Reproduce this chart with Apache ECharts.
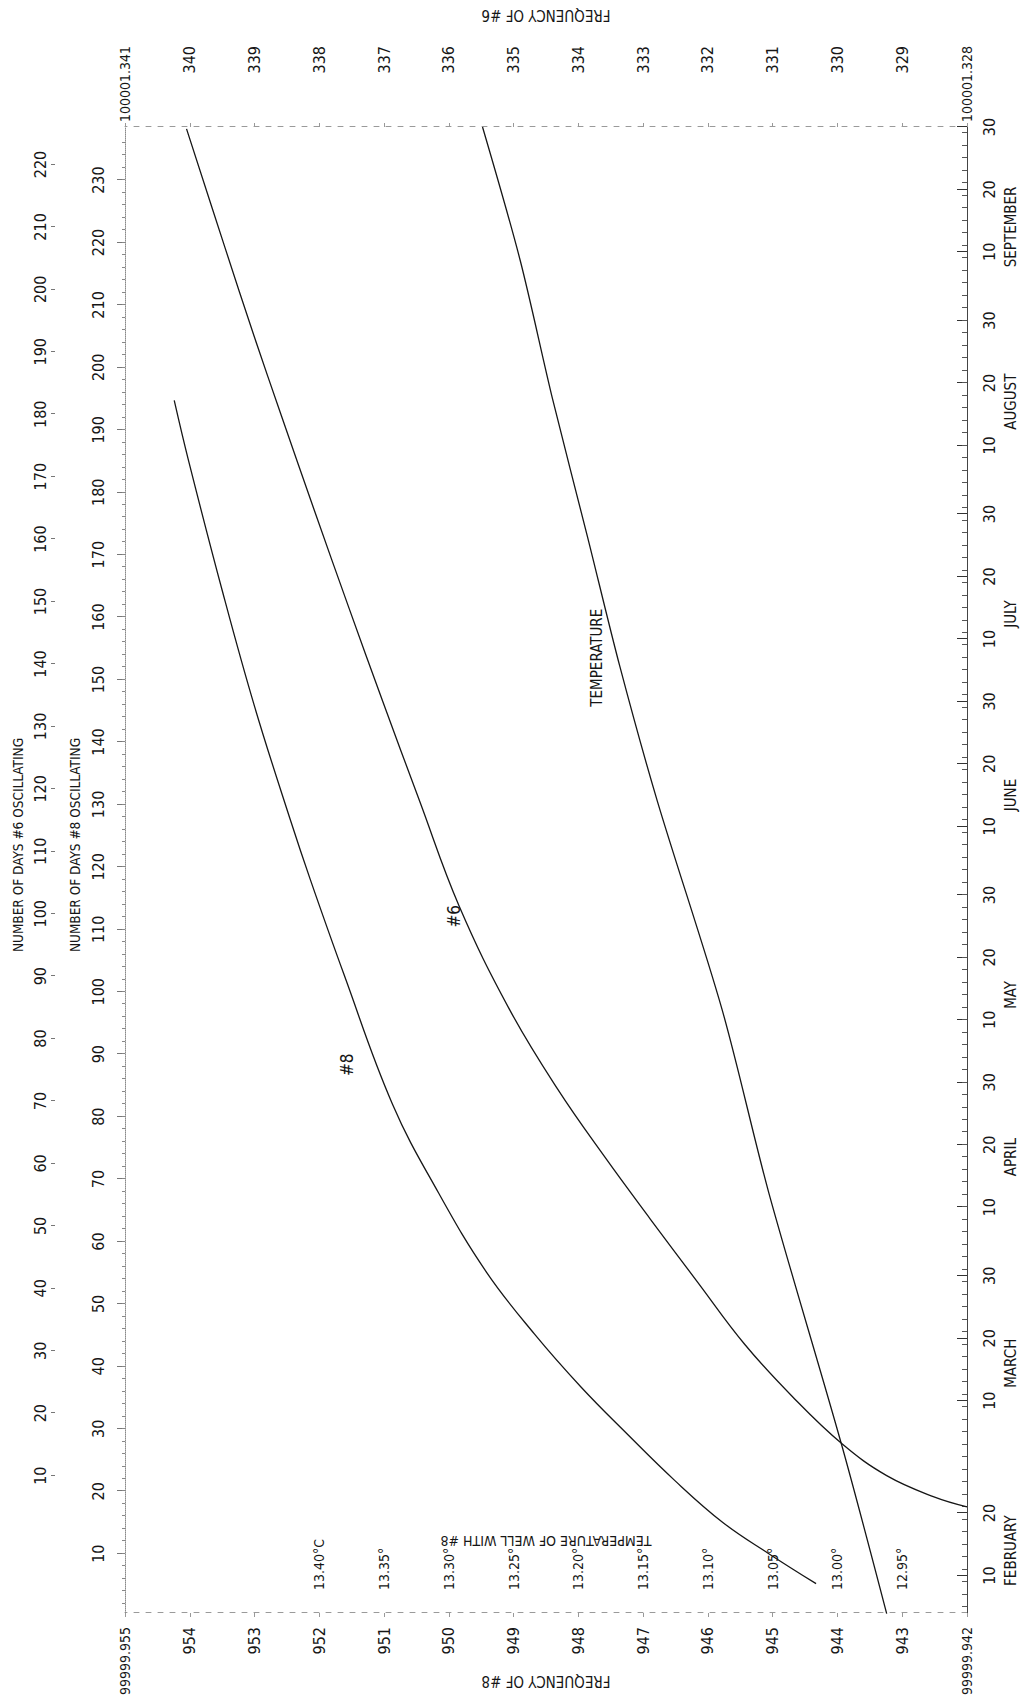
<!DOCTYPE html>
<html>
<head>
<meta charset="utf-8">
<title>Frequency of #6 and #8 against time</title>
<script src="https://cdn.jsdelivr.net/npm/echarts@6/dist/echarts.min.js"></script>
<style>
  html, body { margin: 0; padding: 0; background: #fff; overflow: hidden; }
  #wrap { position: relative; width: 1027px; height: 1708px; overflow: hidden; }
  /* the sheet is drawn landscape and turned a quarter turn, like the original */
  #chart { position: absolute; left: 0; top: 0; width: 1708px; height: 1027px;
           transform-origin: 0 0; transform: translate(0, 1708px) rotate(-90deg); }
</style>
</head>
<body>
<div id="wrap"><div id="chart"></div></div>
<script>
// x values are day of the year (non leap year)
var days8 = [39.7, 44.5, 49.5, 56.2, 63.7, 71.2, 79.7, 89.6, 102.3, 116.5, 137.3, 152.5, 161.8, 180.2, 198.8, 219.6, 229.2];
var freq8 = [944.33, 945.06, 945.77, 946.51, 947.25, 947.96, 948.68, 949.42, 950.16, 950.87, 951.62, 952.14, 952.44, 953.00, 953.50, 954.02, 954.24];

var days6 = [52.0, 53.6, 57.0, 62.1, 69.6, 78.0, 88.0, 98.1, 108.0, 118.9, 131.6, 148.2, 165.0, 181.0, 195.9, 211.7, 226.6, 239.6, 253.8, 272.7];
var freq6 = [328.00, 328.51, 329.24, 329.93, 330.69, 331.43, 332.16, 332.89, 333.59, 334.32, 335.06, 335.84, 336.45, 337.02, 337.54, 338.08, 338.58, 339.01, 339.46, 340.05];

var daysT = [34.9, 62.1, 102.3, 131.6, 165.0, 186.6, 207.4, 229.5, 251.7, 273.0];
var tempT = [12.962, 12.997, 13.053, 13.089, 13.139, 13.168, 13.193, 13.220, 13.245, 13.274];

// date axis: labelled days and month names
var dateTicks = [[2, 10], [2, 20], [3, 10], [3, 20], [3, 30], [4, 10], [4, 20], [4, 30],
                 [5, 10], [5, 20], [5, 30], [6, 10], [6, 20], [6, 30], [7, 10], [7, 20], [7, 30],
                 [8, 10], [8, 20], [8, 30], [9, 10], [9, 20], [9, 30]];
var monthNames = ['FEBRUARY', 'MARCH', 'APRIL', 'MAY', 'JUNE', 'JULY', 'AUGUST', 'SEPTEMBER'];
var monthNameDay = [14, 16, 18, 14, 15, 14, 17, 14];

// "number of days oscillating" tick labels
var days8Ticks = [10, 20, 30, 40, 50, 60, 70, 80, 90, 100, 110, 120, 130, 140, 150, 160, 170, 180, 190, 200, 210, 220, 230];
var days6Ticks = [10, 20, 30, 40, 50, 60, 70, 80, 90, 100, 110, 120, 130, 140, 150, 160, 170, 180, 190, 200, 210, 220];

var monthStart = { 1: 0, 2: 31, 3: 59, 4: 90, 5: 120, 6: 151, 7: 181, 8: 212, 9: 243 };
var startDay = 35, endDay = 273;   // Feb 4 .. Sep 30
var start8 = 34.5, start6 = 47;    // day of year when #8 / #6 began oscillating

var FONT = '"Liberation Sans Narrow", "DejaVu Sans Condensed", "Roboto", sans-serif';
var INK = '#161616';

function doy(m, d) { return monthStart[m] + d; }
function dayOfMonth(v) {
    var m = 9;
    while (m > 1 && monthStart[m] >= v) m--;
    return Math.round(v - monthStart[m]);
}

var tickDoy = dateTicks.map(function (t) { return doy(t[0], t[1]); });
var monthDoy = monthNameDay.map(function (d, i) { return doy(i + 2, d); });
var minorDoy = [];
for (var k = 36; k < endDay; k += 2) minorDoy.push(k);
var minor8 = [];
for (var j = 2; j < 238; j += 2) minor8.push(j);

function pairs(xs, ys) { return xs.map(function (x, i) { return [x, ys[i]]; }); }

var dash = { color: '#9a9a9a', width: 1, type: [5, 7] };
var longLabel = { s: { fontSize: 14, fontFamily: FONT, color: INK } };

var myChart = echarts.init(document.getElementById('chart'), null, { renderer: 'svg' });

var option = {
    animation: false,
    backgroundColor: '#fff',
    grid: { left: 95, right: 127, top: 125, bottom: 60, outerBoundsMode: 'none' },
    xAxis: [
        {   // date axis, labelled 10 / 20 / 30
            type: 'value', position: 'bottom', min: startDay, max: endDay,
            axisLine: { show: true, onZero: false, lineStyle: { color: '#444', width: 1 } },
            axisTick: { show: true, inside: true, length: 10, customValues: tickDoy, lineStyle: { color: '#333' } },
            axisLabel: { show: true, customValues: tickDoy, margin: 14, fontSize: 16, fontFamily: FONT, color: INK,
                formatter: function (v) { return String(dayOfMonth(v)); } },
            splitLine: { show: false }
        },
        {   // small day ticks
            type: 'value', position: 'bottom', min: startDay, max: endDay,
            axisLine: { show: false, onZero: false },
            axisTick: { show: true, inside: true, length: 5, customValues: minorDoy, lineStyle: { color: '#555' } },
            axisLabel: { show: false },
            splitLine: { show: false }
        },
        {   // month names
            type: 'value', position: 'bottom', min: startDay, max: endDay,
            axisLine: { show: false, onZero: false }, axisTick: { show: false },
            axisLabel: { show: true, customValues: monthDoy, margin: 36, fontSize: 15, fontFamily: FONT, color: INK,
                formatter: function (v) { return monthNames[monthDoy.indexOf(v)] || ''; } },
            splitLine: { show: false }
        },
        {   // days #8 oscillating
            type: 'value', position: 'top', min: startDay - start8, max: endDay - start8,
            axisLine: { show: true, onZero: false, lineStyle: { color: '#8a8a8a', width: 1, type: 'dotted' } },
            axisTick: { show: true, length: 8, customValues: days8Ticks, lineStyle: { color: '#777' } },
            axisLabel: { show: true, customValues: days8Ticks, margin: 19, fontSize: 16, fontFamily: FONT, color: INK },
            splitLine: { show: false },
            name: 'NUMBER OF DAYS #8 OSCILLATING', nameLocation: 'middle', nameGap: 43, nameMoveOverlap: false,
            nameTextStyle: { fontFamily: FONT, color: INK, fontSize: 13.5, padding: [0, 0, 0, 50] }
        },
        {   // small ticks on the #8 day line
            type: 'value', position: 'top', min: startDay - start8, max: endDay - start8,
            axisLine: { show: false, onZero: false },
            axisTick: { show: true, length: 3, customValues: minor8, lineStyle: { color: '#888' } },
            axisLabel: { show: false },
            splitLine: { show: false }
        },
        {   // days #6 oscillating
            type: 'value', position: 'top', offset: 70, min: startDay - start6, max: endDay - start6,
            axisLine: { show: false, onZero: false },
            axisTick: { show: true, length: 4, customValues: days6Ticks, lineStyle: { color: '#777' } },
            axisLabel: { show: true, customValues: days6Ticks, margin: 7, fontSize: 16, fontFamily: FONT, color: INK },
            splitLine: { show: false },
            name: 'NUMBER OF DAYS #6 OSCILLATING', nameLocation: 'middle', nameGap: 30, nameMoveOverlap: false,
            nameTextStyle: { fontFamily: FONT, color: INK, fontSize: 13.5, padding: [0, 0, 0, 50] }
        }
    ],
    yAxis: [
        {   // frequency of #8
            type: 'value', position: 'left', min: 942, max: 955, interval: 1,
            axisLine: { show: true, onZero: false, lineStyle: dash },
            axisTick: { show: true, length: 4, lineStyle: { color: '#999' } },
            axisLabel: { margin: 14, fontSize: 16, fontFamily: FONT, color: INK, rich: longLabel,
                formatter: function (v) { return (v === 955 || v === 942) ? '{s|99999.' + v + '}' : String(v); } },
            splitLine: { show: false },
            name: 'FREQUENCY OF #8', nameLocation: 'middle', nameRotate: 90, nameGap: 60, nameMoveOverlap: false,
            nameTextStyle: { fontFamily: FONT, color: INK, fontSize: 15 }
        },
        {   // frequency of #6
            type: 'value', position: 'right', min: 328, max: 341, interval: 1,
            axisLine: { show: true, onZero: false, lineStyle: dash },
            axisTick: { show: true, length: 4, lineStyle: { color: '#999' } },
            axisLabel: { margin: 81, align: 'right', fontSize: 16, fontFamily: FONT, color: INK, rich: longLabel,
                formatter: function (v) { return (v === 341 || v === 328) ? '{s|100001.' + v + '}' : String(v); } },
            splitLine: { show: false },
            name: 'FREQUENCY OF #6', nameLocation: 'middle', nameRotate: 90, nameGap: 105, nameMoveOverlap: false,
            nameTextStyle: { fontFamily: FONT, color: INK, fontSize: 15 }
        },
        {   // temperature of well with #8
            type: 'value', position: 'left', min: 12.90, max: 13.55, interval: 0.05,
            axisLine: { show: false, onZero: false }, axisTick: { show: false },
            axisLabel: { inside: true, align: 'left', margin: 23, fontSize: 14, fontFamily: FONT, color: INK,
                formatter: function (v) {
                    if (v < 12.94 || v > 13.41) return '';
                    var s = v.toFixed(2) + '°';
                    return v > 13.39 ? s + 'C' : s;
                } },
            splitLine: { show: false },
            name: 'TEMPERATURE OF WELL WITH #8', nameLocation: 'middle', nameRotate: 90, nameGap: -79, nameMoveOverlap: false,
            nameTextStyle: { fontFamily: FONT, color: INK, fontSize: 14 }
        }
    ],
    series: [
        {
            name: '#8', type: 'line', xAxisIndex: 0, yAxisIndex: 0,
            data: pairs(days8, freq8), smooth: 0.4, showSymbol: false,
            lineStyle: { color: INK, width: 1.3 },
            markPoint: { symbol: 'circle', symbolSize: 1, itemStyle: { color: 'rgba(0,0,0,0)' },
                label: { show: true, position: 'inside', formatter: '#8', fontFamily: FONT, color: INK, fontSize: 17 },
                data: [{ coord: [122.8, 951.57] }] }
        },
        {
            name: '#6', type: 'line', xAxisIndex: 0, yAxisIndex: 1,
            data: pairs(days6, freq6), smooth: 0.4, showSymbol: false,
            lineStyle: { color: INK, width: 1.3 },
            markPoint: { symbol: 'circle', symbolSize: 1, itemStyle: { color: 'rgba(0,0,0,0)' },
                label: { show: true, position: 'inside', formatter: '#6', fontFamily: FONT, color: INK, fontSize: 17 },
                data: [{ coord: [146.6, 335.92] }] }
        },
        {
            name: 'Temperature', type: 'line', xAxisIndex: 0, yAxisIndex: 2,
            data: pairs(daysT, tempT), smooth: 0.3, showSymbol: false,
            lineStyle: { color: INK, width: 1.3 },
            markPoint: { symbol: 'circle', symbolSize: 1, itemStyle: { color: 'rgba(0,0,0,0)' },
                label: { show: true, position: 'inside', formatter: 'TEMPERATURE', fontFamily: FONT, color: INK, fontSize: 15 },
                data: [{ coord: [188, 13.186] }] }
        }
    ]
};

myChart.setOption(option);
</script>
</body>
</html>
